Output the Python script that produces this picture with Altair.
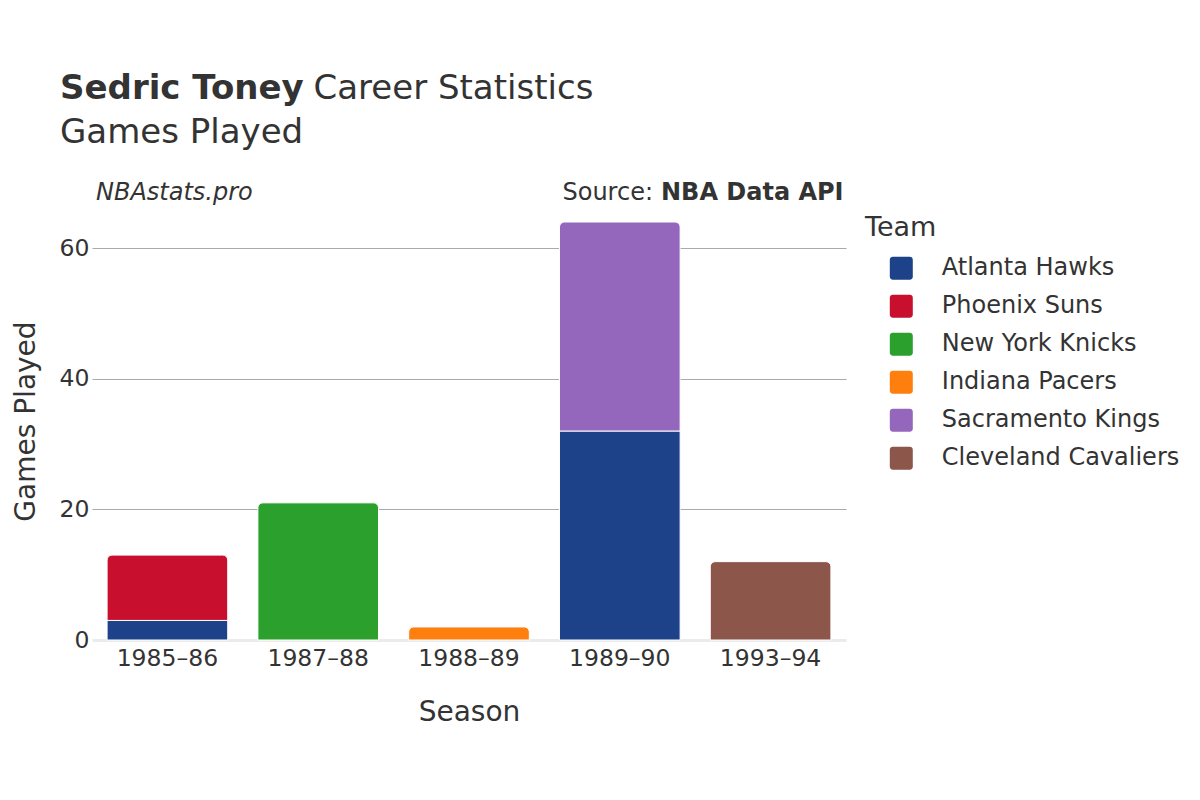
import altair as alt
import pandas as pd

# ---- data ----
seasons = ["1985–86", "1987–88", "1988–89", "1989–90", "1993–94"]
teams = ["Atlanta Hawks", "Phoenix Suns", "New York Knicks", "Indiana Pacers",
         "Sacramento Kings", "Cleveland Cavaliers"]
team_colors = ["#1d428a", "#c8102e", "#2ca02c", "#ff7f0e", "#9467bd", "#8c564b"]
row_season = ["1985–86", "1985–86", "1987–88", "1988–89", "1989–90", "1989–90", "1993–94"]
row_team = ["Atlanta Hawks", "Phoenix Suns", "New York Knicks", "Indiana Pacers",
            "Atlanta Hawks", "Sacramento Kings", "Cleveland Cavaliers"]
row_games = [3, 10, 21, 2, 32, 32, 12]
y_ticks = [0, 20, 40, 60]

df = pd.DataFrame({"season": row_season, "team": row_team, "games": row_games})
df["order"] = [teams.index(t) for t in row_team]

W, H = 754, 440
TXT = "#333333"
FONT = "DejaVu Sans"
ROUND = ("M-0.74,-1H0.74A0.26,0.26,0,0,1,1,-0.74V0.74A0.26,0.26,0,0,1,0.74,1"
         "H-0.74A0.26,0.26,0,0,1,-1,0.74V-0.74A0.26,0.26,0,0,1,-0.74,-1Z")

base = (
    alt.Chart(df)
    .transform_stack(stack="games", groupby=["season"], as_=["g0", "g1"],
                     sort=[alt.SortField(field="order", order="ascending")])
    .transform_joinaggregate(top="max(g1)", groupby=["season"])
)

enc = dict(
    x=alt.X("season:N", sort=seasons,
            scale=alt.Scale(paddingInner=0.2, paddingOuter=0.1),
            axis=alt.Axis(title="Season", labelAngle=0, labelFontSize=23.5, labelColor=TXT,
                          labelBaseline="alphabetic", labelPadding=25.7, ticks=False,
                          domain=False, titleFontSize=28, titleFontWeight="normal",
                          titleColor=TXT, titleBaseline="alphabetic", titleY=80.7,
                          titleX=W / 2)),
    y=alt.Y("g0:Q", scale=alt.Scale(domain=[0, 67.37], nice=False),
            axis=alt.Axis(title="Games Played", values=y_ticks, labelFontSize=23.5,
                          labelColor=TXT, labelPadding=3, ticks=False, domain=False,
                          gridColor={"condition": {"test": "datum.value === 0", "value": "#ebebeb"},
                                     "value": "#aaaaaa"},
                          gridWidth={"condition": {"test": "datum.value === 0", "value": 3},
                                     "value": 1},
                          titleFontSize=28, titleFontWeight="normal", titleColor=TXT,
                          titleBaseline="alphabetic", titleX=-58, titleY=221)),
    y2="g1:Q",
    color=alt.Color("team:N", scale=alt.Scale(domain=teams, range=team_colors),
                    legend=alt.Legend(title="Team", orient="none", legendX=773, legendY=14.7,
                                      titleFontSize=27, titleFontWeight="normal",
                                      titleColor=TXT, titlePadding=14.5, labelFontSize=24,
                                      labelColor=TXT, labelLimit=0, symbolType=ROUND,
                                      symbolSize=529, symbolOffset=24.3, labelOffset=28.5,
                                      rowPadding=14, padding=0, symbolStrokeWidth=0,
                                      symbolOpacity=1)),
)

lower = base.transform_filter("datum.g1 < datum.top").mark_bar(
    stroke="white", strokeWidth=1).encode(**enc)
upper = base.transform_filter("datum.g1 >= datum.top").mark_bar(
    stroke="white", strokeWidth=1, cornerRadiusTopLeft=5, cornerRadiusTopRight=5).encode(**enc)


def label(text, x, y, size, weight="normal", style="normal", align="left"):
    return alt.Chart(pd.DataFrame({"t": [text]})).mark_text(
        fontSize=size, fontWeight=weight, fontStyle=style, align=align,
        baseline="alphabetic", color=TXT, font=FONT
    ).encode(x=alt.value(x), y=alt.value(y), text="t:N")


texts = [
    label("Sedric Toney", -32, -101, 34, weight="bold"),
    label("Career Statistics", 221.5, -101, 34),
    label("Games Played", -32, -56.7, 34),
    label("NBAstats.pro", 4, 0, 24, style="italic"),
    label("NBA Data API", 569, 0, 24, weight="bold"),
    label("Source:", 561, 0, 24, align="right"),
]

chart = (
    alt.layer(lower, upper, *texts)
    .properties(width=W, height=H, autosize=alt.AutoSizeParams(type="none"),
                padding={"left": 84, "top": 192, "right": 346, "bottom": 140})
    .configure(font=FONT)
    .configure_view(strokeWidth=0)
)

chart.save("out.html", embed_options={"renderer": "svg", "actions": False})
